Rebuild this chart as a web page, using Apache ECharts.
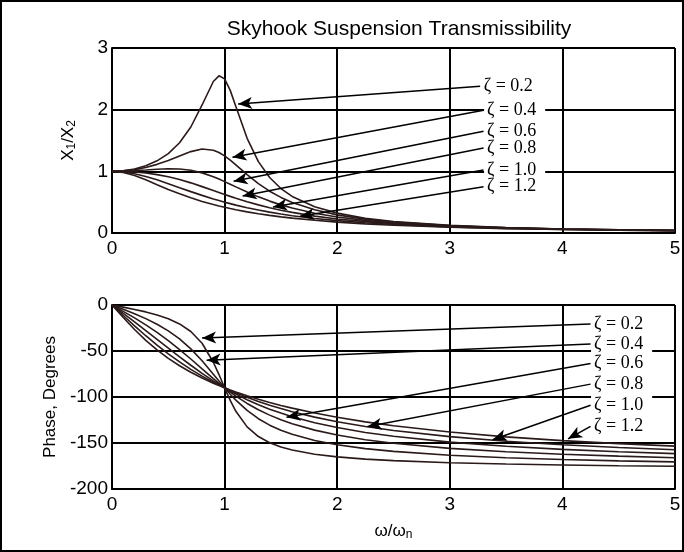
<!DOCTYPE html>
<html><head><meta charset="utf-8">
<script src="https://cdn.jsdelivr.net/npm/echarts@6/dist/echarts.min.js"></script>
<style>html,body{margin:0;padding:0;background:#fff}#c{width:684px;height:552px}</style>
</head><body><div id="c"></div>
<script>
// frequency ratio ω/ωn
const omega = [0,0.1,0.2,0.3,0.4,0.5,0.6,0.7,0.8,0.9,0.95,1.0,1.05,1.1,1.2,1.3,1.4,1.5,1.6,1.8,2.0,2.25,2.5,3.0,3.5,4.0,4.5,5.0];
const zetaNames = ['ζ = 0.2','ζ = 0.4','ζ = 0.6','ζ = 0.8','ζ = 1.0','ζ = 1.2'];
// X1/X2 magnitude
const mag02 = [1,1.009,1.038,1.090,1.170,1.288,1.463,1.719,2.076,2.457,2.549,2.5,2.313,2.051,1.536,1.157,0.900,0.721,0.593,0.425,0.322,0.240,0.187,0.124,0.088,0.066,0.052,0.042];
const mag04 = [1,1.007,1.028,1.063,1.113,1.176,1.25,1.320,1.362,1.343,1.305,1.25,1.182,1.105,0.947,0.801,0.678,0.577,0.496,0.376,0.294,0.225,0.178,0.120,0.086,0.065,0.051,0.041];
const mag06 = [1,1.003,1.011,1.022,1.034,1.041,1.038,1.018,0.975,0.912,0.874,0.833,0.791,0.748,0.664,0.586,0.517,0.456,0.404,0.321,0.260,0.205,0.165,0.114,0.083,0.064,0.050,0.040];
const mag08 = [1,0.997,0.988,0.972,0.947,0.912,0.867,0.813,0.752,0.689,0.657,0.625,0.594,0.564,0.508,0.456,0.410,0.370,0.334,0.274,0.228,0.184,0.152,0.107,0.080,0.061,0.049,0.040];
const mag10 = [1,0.990,0.962,0.917,0.862,0.800,0.735,0.671,0.610,0.552,0.526,0.5,0.476,0.452,0.410,0.372,0.338,0.308,0.281,0.236,0.2,0.165,0.138,0.1,0.075,0.059,0.047,0.038];
const mag12 = [1,0.982,0.932,0.862,0.784,0.707,0.635,0.570,0.512,0.461,0.438,0.417,0.397,0.378,0.343,0.313,0.286,0.262,0.241,0.206,0.177,0.148,0.125,0.093,0.071,0.056,0.045,0.037];
// phase, degrees
const ph02 = [0,-2.3,-4.8,-7.5,-10.8,-14.9,-20.6,-28.8,-41.6,-62.2,-75.6,-90,-103.7,-115.5,-132.5,-143.0,-149.7,-154.4,-157.7,-162.2,-165.1,-167.5,-169.2,-171.5,-172.9,-173.9,-174.7,-175.2];
const ph04 = [0,-4.6,-9.5,-14.8,-20.9,-28.1,-36.9,-47.7,-60.6,-75.2,-82.7,-90,-97.0,-103.4,-114.6,-123.6,-130.6,-136.2,-140.6,-147.3,-151.9,-156.1,-159.1,-163.3,-166.0,-168.0,-169.4,-170.5];
const ph06 = [0,-6.9,-14.0,-21.6,-29.7,-38.7,-48.4,-58.7,-69.4,-80.0,-85.1,-90,-94.7,-99.0,-107.0,-113.9,-119.7,-124.8,-129.1,-136.0,-141.3,-146.4,-150.3,-155.8,-159.5,-162.3,-164.3,-166.0];
const ph08 = [0,-9.2,-18.4,-27.8,-37.3,-46.8,-56.3,-65.5,-74.3,-82.5,-86.3,-90,-93.5,-96.8,-102.9,-108.4,-113.2,-117.5,-121.4,-127.9,-133.2,-138.5,-142.7,-149.0,-153.5,-156.9,-159.5,-161.6];
const ph10 = [0,-11.4,-22.6,-33.4,-43.6,-53.1,-61.9,-70.0,-77.3,-84.0,-87.1,-90,-92.8,-95.5,-100.4,-104.9,-108.9,-112.6,-116.0,-121.9,-126.9,-132.1,-136.4,-143.1,-148.1,-151.9,-154.9,-157.4];
const ph12 = [0,-13.6,-26.6,-38.4,-48.8,-58.0,-66.0,-73.1,-79.4,-85.0,-87.6,-90,-92.3,-94.5,-98.7,-102.5,-105.9,-109.2,-112.1,-117.4,-122.0,-127.0,-131.2,-138.0,-143.3,-147.4,-150.7,-153.4];
const magSeries = [mag02,mag04,mag06,mag08,mag10,mag12];
const phSeries = [ph02,ph04,ph06,ph08,ph10,ph12];
// annotation anchors in data units: label point and arrow tip
const magLabelAt = [[3.27,2.38],[3.30,1.99],[3.30,1.65],[3.30,1.38],[3.30,1.02],[3.30,0.75]];
const magArrowTip = [[1.12,2.09],[1.07,1.23],[1.08,0.84],[1.16,0.60],[1.43,0.42],[1.67,0.27]];
const phLabelAt = [[4.25,-20.7],[4.25,-42.4],[4.25,-63.5],[4.25,-86],[4.25,-109],[4.25,-132]];
const phArrowTip = [[0.80,-36],[0.84,-60],[1.55,-122],[2.27,-132],[3.38,-146.5],[4.05,-145.5]];

const INK = '#000', CURVE = '#2a1a1a';
const sans = '"Liberation Sans", Arial, sans-serif';
const serif = '"Liberation Serif", "Times New Roman", serif';

function xAxis(gi, withName){
  const a = {type:'value', gridIndex:gi, min:0, max:5, interval:1,
    axisLine:{show:true, onZero:false, lineStyle:{color:INK,width:2}},
    axisTick:{show:false},
    splitLine:{show:true, lineStyle:{color:INK,width:2}},
    axisLabel:{color:INK, fontFamily:sans, fontSize:19, margin:6}};
  if (withName){
    a.name = '{n|ω/ω}{s|n}'; a.nameLocation='middle'; a.nameGap=32;
    a.nameTextStyle = {color:INK, fontFamily:sans, rich:{n:{fontSize:17,fontFamily:sans,color:INK}, s:{fontSize:12,fontFamily:sans,color:INK,padding:[8,0,0,0]}}};
  }
  return a;
}
function yAxis(gi, min, max, interval, name, rich){
  return {type:'value', gridIndex:gi, min, max, interval,
    axisLine:{show:true, onZero:false, lineStyle:{color:INK,width:2}},
    axisTick:{show:false},
    splitLine:{show:true, lineStyle:{color:INK,width:2}},
    axisLabel:{color:INK, fontFamily:sans, fontSize:19, margin:4},
    name, nameLocation:'middle', nameGap: 34, nameRotate:90,
    nameTextStyle:{color:INK, fontFamily:sans, fontSize:17, rich}};
}

function annotations(i, labelAt, tip){
  return {
    markLine:{silent:true, animation:false, symbol:['none','arrow'], symbolSize:12,
      lineStyle:{color:INK, width:1.5, type:'solid'}, itemStyle:{color:INK}, label:{show:false},
      data:[[{coord:labelAt[i], symbol:'none', symbolSize:1},
             {coord:tip[i], symbol:'arrow', symbolSize:[9,14]}]]},
    markPoint:{silent:true, animation:false, symbol:'circle', symbolSize:1,
      itemStyle:{color:'rgba(0,0,0,0)'},
      data:[{coord:labelAt[i], label:{show:true, position:'right', distance:0,
        formatter: zetaNames[i], color:INK, fontFamily:serif, fontSize:18,
        backgroundColor:'#fff', padding:[1,9,1,3]}}]}
  };
}

const series = [];
magSeries.forEach((m,i)=>{
  series.push(Object.assign({type:'line', name:zetaNames[i], xAxisIndex:0, yAxisIndex:0,
    data: omega.map((x,k)=>[x,m[k]]), showSymbol:false, smooth:false, animation:false,
    lineStyle:{color:CURVE, width:1.6}, itemStyle:{color:CURVE}, z:3}, annotations(i, magLabelAt, magArrowTip)));
});
phSeries.forEach((p,i)=>{
  series.push(Object.assign({type:'line', name:zetaNames[i], xAxisIndex:1, yAxisIndex:1,
    data: omega.map((x,k)=>[x,p[k]]), showSymbol:false, smooth:false, animation:false,
    lineStyle:{color:CURVE, width:1.6}, itemStyle:{color:CURVE}, z:3}, annotations(i, phLabelAt, phArrowTip)));
});

const chart = echarts.init(document.getElementById('c'), null, {renderer:'canvas'});
chart.setOption({
  backgroundColor:'#fff',
  animation:false,
  title:{text:'Skyhook Suspension Transmissibility', left:394, textAlign:'center', top:14,
    textStyle:{color:INK, fontFamily:sans, fontSize:21, fontWeight:'normal'}},
  grid:[{left:112, top:48, width:563, height:185},{left:112, top:305, width:563, height:184}],
  xAxis:[xAxis(0,false), xAxis(1,true)],
  yAxis:[
    yAxis(0,0,3,1,'{n|X}{s|1}{n|/X}{s|2}', {n:{fontSize:17,fontFamily:sans,color:INK}, s:{fontSize:12,fontFamily:sans,color:INK,padding:[8,0,0,0]}}),
    yAxis(1,-200,0,50,'Phase, Degrees', null)
  ],
  graphic:[{type:'rect', shape:{x:1,y:1,width:682,height:550}, style:{fill:null, stroke:INK, lineWidth:2}, silent:true, z:100}],
  series
});
</script></body></html>
